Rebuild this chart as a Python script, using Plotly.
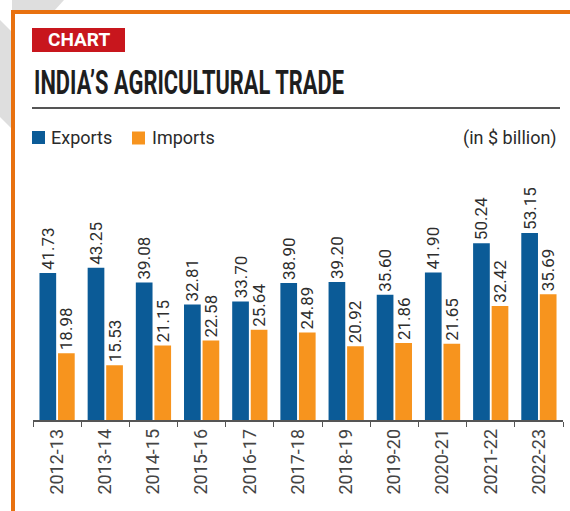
import plotly.graph_objects as go

# India's agricultural trade, $ billion
years = ["2012-13", "2013-14", "2014-15", "2015-16", "2016-17", "2017-18",
         "2018-19", "2019-20", "2020-21", "2021-22", "2022-23"]
exports = [41.73, 43.25, 39.08, 32.81, 33.70, 38.90, 39.20, 35.60, 41.90, 50.24, 53.15]
imports = [18.98, 15.53, 21.15, 22.58, 25.64, 24.89, 20.92, 21.86, 21.65, 32.42, 35.69]

BLUE = "#0b5b97"
ORANGE = "#f7941e"
FRAME = "#e8710f"
RED = "#c8161d"

W, H = 570, 511
# plot area in pixels
L, R, T, B = 33, 563, 150, 420
TITLE_WIDTH = 310  # condensed headline width in px


def px(x):
    return (x - L) / (R - L)


def py(y):
    return (B - y) / (B - T)


fig = go.Figure()
fig.add_trace(go.Bar(
    name="Exports", x=years, y=exports, marker_color=BLUE, marker_line_width=0,
    texttemplate="%{y:.2f}", textposition="outside", textangle=-90,
    textfont=dict(family="Roboto", size=17, color="#2e2e2e"),
    constraintext="none", cliponaxis=False,
))
fig.add_trace(go.Bar(
    name="Imports", x=years, y=imports, marker_color=ORANGE, marker_line_width=0,
    texttemplate="%{y:.2f}", textposition="outside", textangle=-90,
    textfont=dict(family="Roboto", size=17, color="#2e2e2e"),
    constraintext="none", cliponaxis=False,
))

shapes = [
    # watermark pieces outside the panel
    dict(type="path", xref="paper", yref="paper", layer="below",
         path=f"M {px(12)},{py(0)} L {px(64)},{py(0)} L {px(54)},{py(11)} L {px(12)},{py(11)} Z",
         fillcolor="#dedede", line_width=0),
    dict(type="path", xref="paper", yref="paper", layer="below",
         path=f"M {px(0)},{py(20)} L {px(12)},{py(32)} L {px(12)},{py(129)} L {px(0)},{py(117)} Z",
         fillcolor="#dedede", line_width=0),
    # orange frame
    dict(type="rect", xref="paper", yref="paper", layer="above",
         x0=px(13), x1=px(640), y0=py(12), y1=py(640),
         line=dict(color=FRAME, width=4), fillcolor="rgba(0,0,0,0)"),
    # red tag
    dict(type="rect", xref="paper", yref="paper",
         x0=px(32), x1=px(125), y0=py(28), y1=py(52),
         fillcolor=RED, line_width=0),
    # rule under the title
    dict(type="line", xref="paper", yref="paper",
         x0=px(32), x1=px(560), y0=py(108), y1=py(108),
         line=dict(color="#555555", width=2)),
    # legend swatches
    dict(type="rect", xref="paper", yref="paper",
         x0=px(32), x1=px(45), y0=py(131), y1=py(144),
         fillcolor=BLUE, line_width=0),
    dict(type="rect", xref="paper", yref="paper",
         x0=px(132), x1=px(145), y0=py(131.5), y1=py(144.5),
         fillcolor=ORANGE, line_width=0),
]

annotations = [
    dict(text="<b>CHART</b>", x=px(78.5), y=py(40), xanchor="center", yanchor="middle",
         font=dict(family="Roboto", size=19, color="white")),
    dict(text="<b>INDIA’S AGRICULTURAL TRADE</b>", x=px(32), y=py(82),
         xanchor="left", yanchor="middle", name="headline",
         font=dict(family="Roboto", size=34, color="#1e1e1e")),
    dict(text="Exports", x=px(49), y=py(137.5), xanchor="left", yanchor="middle",
         font=dict(family="Roboto", size=18, color="#2a2a2a")),
    dict(text="Imports", x=px(149.5), y=py(137.5), xanchor="left", yanchor="middle",
         font=dict(family="Roboto", size=18, color="#2a2a2a")),
    dict(text="(in $ billion)", x=px(559), y=py(137.5), xanchor="right", yanchor="middle",
         font=dict(family="Roboto", size=18, color="#2a2a2a")),
]
for a in annotations:
    a.update(xref="paper", yref="paper", showarrow=False)

fig.update_layout(
    width=W, height=H,
    margin=dict(l=L, r=W - R, t=T, b=H - B, pad=0),
    paper_bgcolor="white", plot_bgcolor="white",
    barmode="group", bargap=0.23, bargroupgap=0.1,
    showlegend=False,
    shapes=shapes, annotations=annotations,
    xaxis=dict(
        showline=True, linecolor="#555555", linewidth=1.5,
        ticks="outside", tickson="boundaries", ticklen=5, tickcolor="#555555",
        tickangle=-90, tickfont=dict(family="Roboto", size=18, color="#444444"),
        showgrid=False,
    ),
    yaxis=dict(range=[0, (B - T) / 3.52], visible=False, showgrid=False, zeroline=False),
)

# squeeze the headline horizontally into a condensed face
condense_js = """
var gd = document.getElementById('{plot_id}');
function condense() {
  var texts = gd.querySelectorAll('.annotation-text');
  texts.forEach(function (t) {
    if (t.textContent.indexOf('AGRICULTURAL') < 0) return;
    t.style.transform = '';
    var w = t.getBBox().width;
    if (!w) return;
    t.style.transformBox = 'fill-box';
    t.style.transformOrigin = 'left center';
    t.style.transform = 'scaleX(' + (TARGET_W / w) + ')';
  });
}
condense();
gd.on('plotly_afterplot', condense);
""".replace("TARGET_W", str(TITLE_WIDTH))

fig.write_html("out.html", post_script=condense_js)
